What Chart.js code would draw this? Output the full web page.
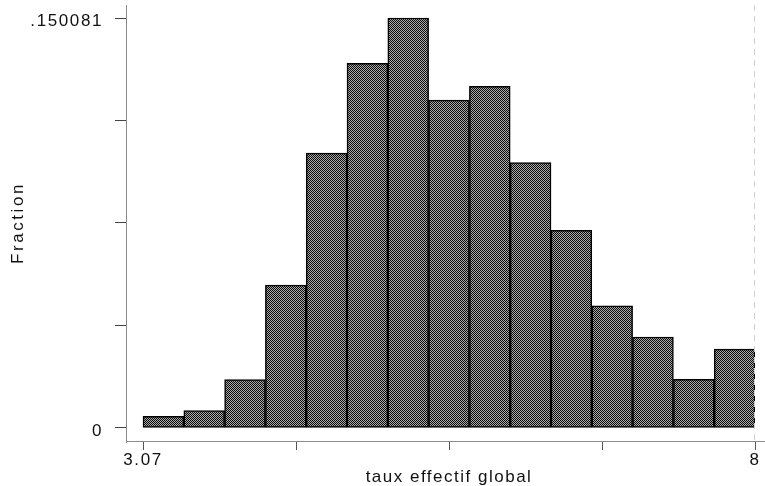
<!DOCTYPE html>
<html>
<head>
<meta charset="utf-8">
<script src="https://cdn.jsdelivr.net/npm/chart.js@4"></script>
<style>
html,body{margin:0;padding:0;background:#fff;}
#wrap{width:765px;height:486px;position:relative;}
</style>
</head>
<body>
<div id="wrap"><canvas id="c" width="765" height="486"></canvas></div>
<script>
// ---- data ----
const binStart = 3.07;
const binEnd = 8;
const fractions = [0.00429, 0.00637, 0.01773, 0.05227, 0.1006, 0.1335, 0.150081,
                   0.1200, 0.1251, 0.0972, 0.0724, 0.0447, 0.0333, 0.0178, 0.0289];
const xTickValues = [3.07, 4.3025, 5.535, 6.7675, 8];
const xTickLabels = ['3.07', '', '', '', '8'];
const yTickValues = [0, 0.0375203, 0.0750405, 0.1125608, 0.150081];
const yTickLabels = ['0', '', '', '', '.150081'];
const xTitle = 'taux effectif global';
const yTitle = 'Fraction';

const binWidth = (binEnd - binStart) / fractions.length;
const points = fractions.map((v, i) => ({ x: binStart + (i + 0.5) * binWidth, y: v }));

// checker pattern fill
const pc = document.createElement('canvas');
pc.width = 2; pc.height = 2;
const pctx = pc.getContext('2d');
pctx.fillStyle = '#acacac'; pctx.fillRect(0, 0, 2, 2);
pctx.fillStyle = '#0a0a0a'; pctx.fillRect(0, 0, 1, 1); pctx.fillRect(1, 1, 1, 1);
const ctx0 = document.getElementById('c').getContext('2d');
const pattern = ctx0.createPattern(pc, 'repeat');

const FONT = '"Liberation Sans", Arial, Helvetica, sans-serif';

const decor = {
  id: 'decor',
  beforeDraw(chart) {
    chart.ctx.letterSpacing = '1.6px';
  },
  afterDraw(chart) {
    const { ctx, chartArea: a, scales } = chart;
    ctx.save();
    ctx.strokeStyle = '#8a8a8a';
    ctx.lineWidth = 1;
    ctx.beginPath();
    ctx.moveTo(a.right, a.bottom + 0.5);
    ctx.lineTo(chart.width, a.bottom + 0.5);
    ctx.stroke();
    ctx.beginPath();
    ctx.moveTo(a.left + 0.5, a.bottom);
    ctx.lineTo(a.left + 0.5, a.bottom + 2);
    ctx.stroke();
    ctx.strokeStyle = '#cfcfcf';
    ctx.setLineDash([6, 5]);
    ctx.beginPath();
    ctx.moveTo(a.right - 0.5, a.top);
    ctx.lineTo(a.right - 0.5, a.bottom);
    ctx.stroke();
    ctx.setLineDash([]);
    ctx.fillStyle = '#111';
    ctx.font = '17px ' + FONT;
    ctx.textAlign = 'center';
    ctx.textBaseline = 'middle';
    ctx.letterSpacing = '1.5px';
    const xc = (scales.x.getPixelForValue(binStart) + scales.x.getPixelForValue(binEnd)) / 2;
    ctx.fillText(xTitle, xc, 477);
    const yc = (scales.y.getPixelForValue(0) + scales.y.getPixelForValue(yTickValues[yTickValues.length - 1])) / 2;
    ctx.translate(18, yc);
    ctx.rotate(-Math.PI / 2);
    ctx.letterSpacing = '2.6px';
    ctx.fillText(yTitle, 0, 0);
    ctx.restore();
  }
};

new Chart(ctx0, {
  type: 'bar',
  data: {
    datasets: [{
      data: points,
      backgroundColor: pattern,
      borderColor: '#000',
      borderWidth: 1.5,
      borderSkipped: false,
      barPercentage: 1,
      categoryPercentage: 1
    }]
  },
  options: {
    responsive: false,
    animation: false,
    events: [],
    layout: { padding: { top: 5, right: 10, left: 0, bottom: 0 } },
    plugins: { legend: { display: false }, tooltip: { enabled: false }, title: { display: false } },
    scales: {
      x: {
        type: 'linear',
        min: 2.933,
        max: 8,
        offset: false,
        afterBuildTicks(scale) { scale.ticks = xTickValues.map(v => ({ value: v })); },
        afterFit(scale) { scale.height = 45; scale.paddingLeft = 0; scale.paddingRight = 0; },
        ticks: {
          color: '#111',
          font: { size: 17, family: FONT },
          padding: 0,
          maxRotation: 0,
          autoSkip: false,
          callback(v, i) { return xTickLabels[i]; }
        },
        grid: { offset: false, drawOnChartArea: false, drawTicks: true, tickLength: 9, color: '#555', lineWidth: 1 },
        border: { display: true, color: '#8a8a8a', width: 1 }
      },
      y: {
        type: 'linear',
        min: -0.00476,
        max: 0.15484,
        afterBuildTicks(scale) { scale.ticks = yTickValues.map(v => ({ value: v })); },
        afterFit(scale) { scale.width = 126; scale.paddingTop = 0; scale.paddingBottom = 0; },
        ticks: {
          color: '#111',
          font: { size: 17, family: FONT },
          padding: 12,
          labelOffset: 3,
          autoSkip: false,
          callback(v, i) { return yTickLabels[i]; }
        },
        grid: { offset: false, drawOnChartArea: false, drawTicks: true, tickLength: 11, color: '#444', lineWidth: 1 },
        border: { display: true, color: '#8a8a8a', width: 1 }
      }
    }
  },
  plugins: [decor]
});
</script>
</body>
</html>
